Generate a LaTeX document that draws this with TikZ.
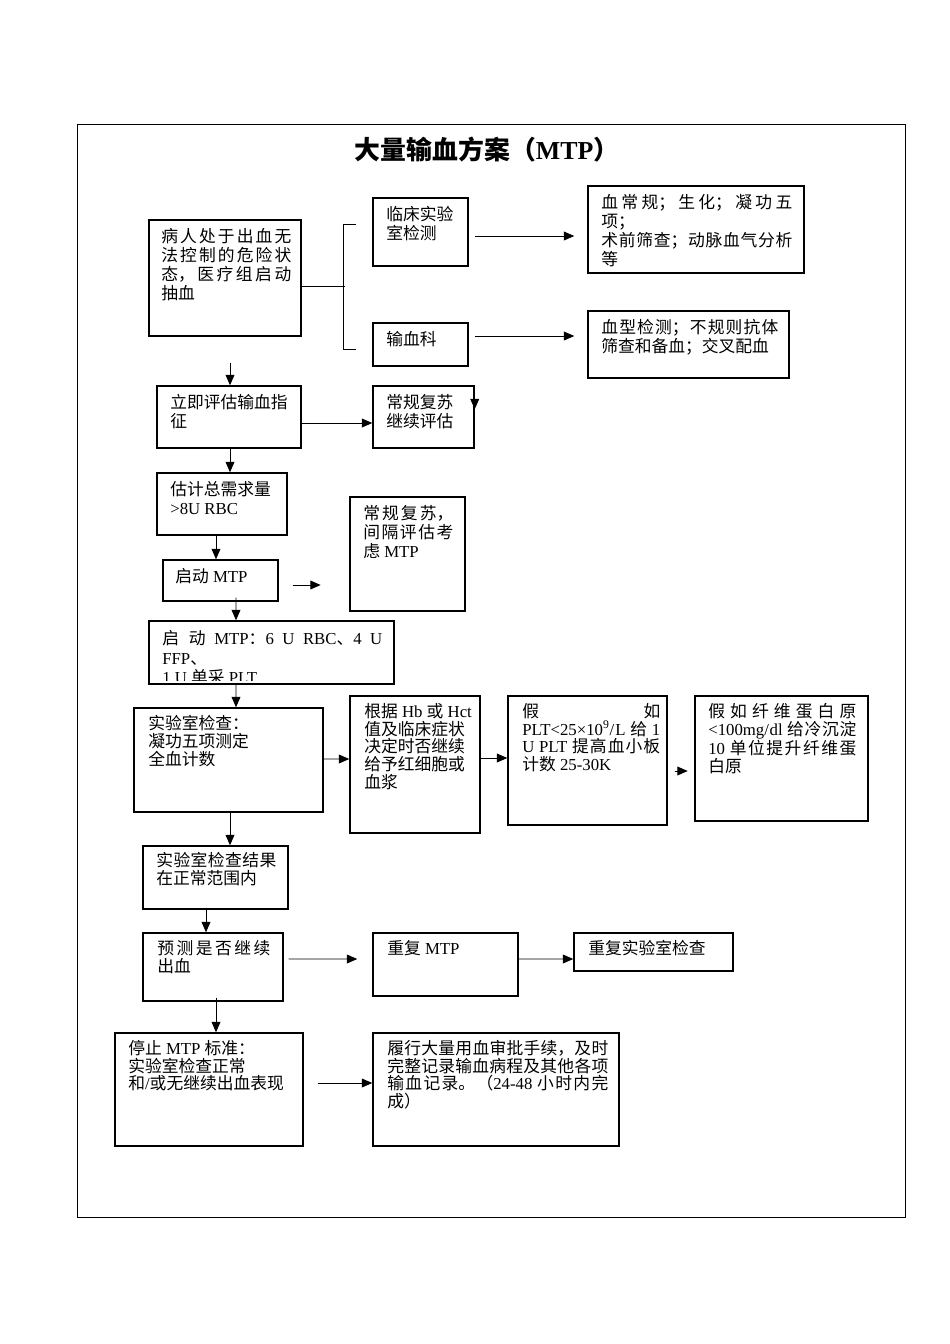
\documentclass[tikz,border=0pt]{standalone}
\usepackage{fontspec}
\setmainfont{Liberation Serif}
\newfontfamily\cjkfont{Noto Sans CJK SC}
\usetikzlibrary{arrows.meta,fit,calc}
\XeTeXinterchartokenstate=1
\newXeTeXintercharclass\CJKcls
\newcount\cjkc
\def\setcjkrange#1#2{\cjkc=#1\relax\loop\XeTeXcharclass\cjkc=\CJKcls\relax\ifnum\cjkc<#2\relax\advance\cjkc by 1\relax\repeat}
\setcjkrange{"3000}{"303F}
\setcjkrange{"4E00}{"9FFF}
\setcjkrange{"FF00}{"FFEF}
\XeTeXinterchartoks 0 \CJKcls = {\begingroup\cjkfont}
\XeTeXinterchartoks 4095 \CJKcls = {\begingroup\cjkfont}
\XeTeXinterchartoks \CJKcls 0 = {\endgroup}
\XeTeXinterchartoks \CJKcls 4095 = {\endgroup}
\XeTeXlinebreaklocale "zh"
\XeTeXlinebreakskip=0pt plus 3pt
\tolerance=10000
\hbadness=10000
\lineskiplimit=-20pt
\begin{document}
\begin{tikzpicture}[x=0.6263pt,y=-0.6263pt,
 box/.style={draw, line width=0.9pt, inner sep=0pt},
 txt/.style={anchor=north west, inner sep=0pt, align=justify, font=\fontsize{10.5pt}{11.9pt}\selectfont},
 txtb/.style={txt, font=\fontsize{10.5pt}{11.1pt}\selectfont},
 arr/.style={line width=0.6pt, -{Triangle[length=6.5pt,width=5.5pt]}},
 ln/.style={line width=0.6pt}]
\fill[white] (0,0) rectangle (950,1344);
\useasboundingbox (0,0) rectangle (950,1344);
\draw[line width=0.6pt] (77,124) rectangle (905,1217);
\node[font=\bfseries\fontsize{16.2pt}{20pt}\selectfont, inner sep=0pt] (title) at (487,150) {大量输血方案（MTP）};

\node[box, fit={(149,220)(301,336)}] (b1) {};
\node[txt, text width=81.4pt] (t1) at (161,228) {病人处于出血无\linebreak 法控制的危险状\linebreak 态，医疗组启动\linebreak 抽血};
\node[box, fit={(373,198)(468,266)}] (b2) {};
\node[txt, text width=47pt] (t2) at (386,206) {临床实验\\室检测};
\node[box, fit={(588,186)(804,273)}] (b3) {};
\node[txt, text width=119.6pt] (t3) at (601,194) {血常规；生化；凝功五\linebreak 项；\\术前筛查；动脉血气分析\linebreak 等};
\node[box, fit={(373,323)(468,366)}] (b4) {};
\node[txt, text width=47pt] (t4) at (386,331) {输血科};
\node[box, fit={(588,311)(789,378)}] (b5) {};
\node[txt, text width=110.9pt] (t5) at (601,319) {血型检测；不规则抗体\linebreak 筛查和备血；交叉配血};
\node[box, fit={(157,386)(301,448)}] (b6) {};
\node[txt, text width=78.3pt] (t6) at (170,394) {立即评估输血指\\征};
\node[box, fit={(373,386)(474,448)}] (b7) {};
\node[txt, text width=50.1pt] (t7) at (386,394) {常规复苏\\继续评估};
\node[box, fit={(157,473)(287,535)}] (b8) {};
\node[txt, text width=68.9pt] (t8) at (170,481) {估计总需求量\\>8U RBC};
\node[box, fit={(163,560)(278,601)}] (b9) {};
\node[txt, text width=56.4pt] (t9) at (175,568) {启动 MTP};
\node[box, fit={(350,497)(465,611)}] (b10) {};
\node[txt, text width=56.4pt] (t10) at (363,505) {常规复苏，\linebreak 间隔评估考\linebreak 虑 MTP};
\node[box, fit={(149,621)(394,684)}] (b11) {};
\begin{scope}
\clip (149,621) rectangle (394,680);
\node[txt, font=\fontsize{10.5pt}{12.3pt}\selectfont, text width=137.8pt] (t11) at (162,630) {启动 MTP：6 U RBC、4 U\linebreak FFP、\\1 U 单采 PLT};
\end{scope}
\node[box, fit={(134,708)(323,812)}] (b12) {};
\node[txtb, text width=103.3pt] (t12) at (148,715) {实验室检查：\\凝功五项测定\\全血计数};
\node[box, fit={(350,696)(480,833)}] (b13) {};
\node[txtb, text width=68.9pt] (t13) at (364,703) {根据 Hb 或 Hct\\值及临床症状\\决定时否继续\\给予红细胞或\\血浆};
\node[box, fit={(508,696)(667,825)}] (b14) {};
\node[txtb, text width=86.4pt] (t14) at (522,703) {假\hfill 如\\PLT<25×10\textsuperscript{9}/L 给 1\linebreak U PLT 提高血小板\linebreak 计数 25-30K};
\node[box, fit={(695,696)(868,821)}] (b15) {};
\node[txtb, text width=92.7pt] (t15) at (708,703) {假如纤维蛋白原\linebreak <100mg/dl 给冷沉淀\linebreak 10 单位提升纤维蛋\linebreak 白原};
\node[box, fit={(143,846)(288,909)}] (b16) {};
\node[txtb, text width=75.2pt] (t16) at (156,852) {实验室检查结果\linebreak 在正常范围内};
\node[box, fit={(143,933)(283,1001)}] (b17) {};
\node[txtb, text width=70.8pt] (t17) at (157,940) {预测是否继续\linebreak 出血};
\node[box, fit={(373,933)(518,996)}] (b18) {};
\node[txtb, text width=75.2pt] (t18) at (387,940) {重复 MTP};
\node[box, fit={(574,933)(733,971)}] (b19) {};
\node[txtb, text width=84.6pt] (t19) at (588,940) {重复实验室检查};
\node[box, fit={(115,1033)(303,1146)}] (b20) {};
\node[txtb, text width=103.3pt] (t20) at (128,1040) {停止 MTP 标准：\\实验室检查正常\\和/或无继续出血表现};
\node[box, fit={(373,1033)(619,1146)}] (b21) {};
\node[txtb, text width=138.4pt] (t21) at (387,1040) {履行大量用血审批手续，及时\linebreak 完整记录输血病程及其他各项\linebreak 输血记录。（24-48 小时内完\linebreak 成）};

\draw[ln] ($(b1.east)+(0,8)$) -- ++(43,0);
\draw[ln] ($(b2.west)+(-16,-8)$) -- ++(-13,0) |- ($(b4.west)+(-16,4.5)$);
\draw[arr] ($(b2.east)+(6,4)$) -- ($(b3.west)+(-13,6.5)$);
\draw[arr] ($(b4.east)+(6,-8.5)$) -- ($(b5.west)+(-13,-8.5)$);
\draw[arr] ($(b1.south)+(5,26)$) -- ($(b6.north)+(1,0)$);
\draw[arr] ($(b6.east)+(0,6)$) -- ($(b7.west)+(0,6)$);
\draw[arr] ($(b7.north east)+(0,1)$) -- ($(b7.north east)+(0,24)$);
\draw[arr] ($(b6.south)+(1,0)$) -- ($(b8.north)+(8,0)$);
\draw[arr] ($(b8.south)+(-6,0)$) -- ($(b9.north)+(-4.5,0)$);
\draw[arr] ($(b9.east)+(14,4.5)$) -- ($(b9.east)+(42,4.5)$);
\draw[arr] ($(b9.south)+(15.5,-4)$) -- ($(b11.north)+(-35.5,0)$);
\draw[arr] ($(b11.south)+(-35.5,0)$) -- ($(b12.north)+(7.5,0)$);
\draw[arr] ($(b12.east)+(0,-1)$) -- ($(b13.west)+(0,-5.5)$);
\draw[arr] ($(b13.east)+(0,-6.5)$) -- ($(b14.west)+(0,-2.5)$);
\draw[arr] ($(b14.east)+(7,10.5)$) -- ($(b14.east)+(20,10.5)$);
\draw[arr] ($(b12.south)+(1.5,0)$) -- ($(b16.north)+(14.5,0)$);
\draw[arr] ($(b16.south)+(-9.5,0)$) -- ($(b17.north)+(-7,0)$);
\draw[arr] ($(b17.east)+(5,-8)$) -- ($(b18.west)+(-15,-5.5)$);
\draw[arr] ($(b18.east)+(0,-5.5)$) -- ($(b19.west)+(0,7)$);
\draw[arr] ($(b17.south)+(3,-4)$) -- ($(b20.north)+(7,0)$);
\draw[arr] ($(b20.east)+(14,-6.5)$) -- ($(b21.west)+(0,-6.5)$);
\end{tikzpicture}
\end{document}
